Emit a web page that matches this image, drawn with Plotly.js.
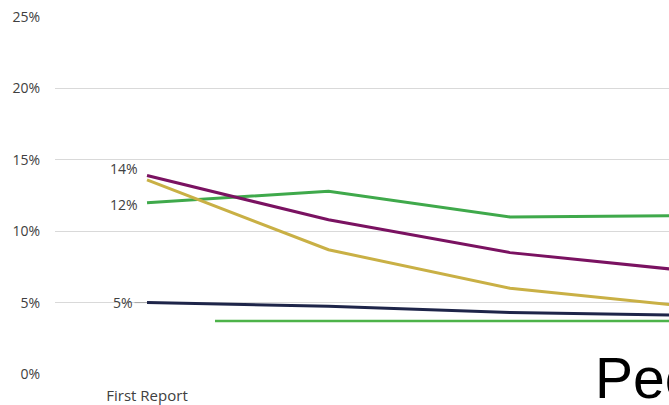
<!DOCTYPE html>
<html><head><meta charset="utf-8">
<script src="https://cdn.plot.ly/plotly-3.0.1.min.js"></script>
<style>html,body{margin:0;padding:0;overflow:hidden;background:#fff}#chart{width:669px;height:405px}</style>
</head><body><div id="chart"></div>
<script>
const categories = ["First Report", "Second Report", "Third Report", "Fourth Report"];
const visibleXTicks = ["First Report"];
const purpleSeries = [0.139, 0.108, 0.085, 0.072];
const greenSeries = [0.120, 0.128, 0.110, 0.111];
const yellowSeries = [0.136, 0.087, 0.060, 0.047];
const navySeries = [0.050, 0.0475, 0.043, 0.041];
const yTickVals = [0, 0.05, 0.10, 0.15, 0.20, 0.25];
const yTickText = ["0%", "5%", "10%", "15%", "20%", "25%"];
const pointLabels = [
  {series: purpleSeries, text: "14%"},
  {series: greenSeries, text: "12%"},
  {series: navySeries, text: "5%"}
];

const mk = (y, color) => ({x: categories, y: y, type: 'scatter', mode: 'lines',
  line: {color: color, width: 3}, hoverinfo: 'skip', showlegend: false});

const data = [
  mk(greenSeries, '#3fa94b'),
  mk(yellowSeries, '#c9b045'),
  mk(purpleSeries, '#7a1261'),
  mk(navySeries, '#1e2549')
];

const labelFont = {family: 'Open Sans, sans-serif', size: 14, color: '#404040'};
const annotations = [
  {x: categories[0], y: pointLabels[0].series[0], text: pointLabels[0].text, showarrow: false,
   xanchor: 'right', yanchor: 'middle', xshift: -7, yshift: 7, font: labelFont},
  {x: categories[0], y: pointLabels[1].series[0], text: pointLabels[1].text, showarrow: false,
   xanchor: 'right', yanchor: 'middle', xshift: -7, yshift: -2, font: labelFont},
  {x: categories[0], y: pointLabels[2].series[0], text: pointLabels[2].text, showarrow: true,
   arrowhead: 0, arrowwidth: 1, arrowcolor: '#a6a6a6', ax: -24, ay: 0, standoff: 0, font: labelFont},
  {xref: 'paper', yref: 'paper', x: 0.876, y: -0.106, xanchor: 'left', yanchor: 'bottom',
   text: 'Peer', showarrow: false, font: {family: 'Liberation Sans, Arial, sans-serif', size: 57, color: '#000'}}
];

const layout = {
  width: 669, height: 405,
  margin: {l: 55, r: 0, t: 17, b: 31},
  paper_bgcolor: '#fff', plot_bgcolor: '#fff',
  font: {family: 'Open Sans, sans-serif', size: 14, color: '#404040'},
  xaxis: {type: 'category', range: [-0.507, 2.876], showgrid: false, zeroline: false,
    showline: false, ticks: '', ticklabelstandoff: 11, tickvals: visibleXTicks,
    tickfont: {family: 'Open Sans, sans-serif', size: 15, color: '#404040'}},
  yaxis: {range: [0, 0.25], tickvals: yTickVals, ticktext: yTickText, showgrid: true,
    gridcolor: '#d9d9d9', gridwidth: 1, zeroline: false, showline: false, ticks: '',
    ticklabelstandoff: 14, tickfont: {family: 'Open Sans, sans-serif', size: 14, color: '#404040'}},
  shapes: [
    {type: 'rect', xref: 'paper', yref: 'paper', x0: 0.2606, x1: 1.05, y0: 0.1457, y1: -0.2,
     fillcolor: '#ffffff', line: {width: 0}, layer: 'above'},
    {type: 'line', xref: 'paper', yref: 'paper', x0: 0.2606, x1: 1.05, y0: 0.1485, y1: 0.1485,
     line: {color: '#4db34a', width: 2.5}, layer: 'above'}
  ],
  annotations: annotations
};

Plotly.newPlot('chart', data, layout, {displayModeBar: false, staticPlot: true});
</script></body></html>
